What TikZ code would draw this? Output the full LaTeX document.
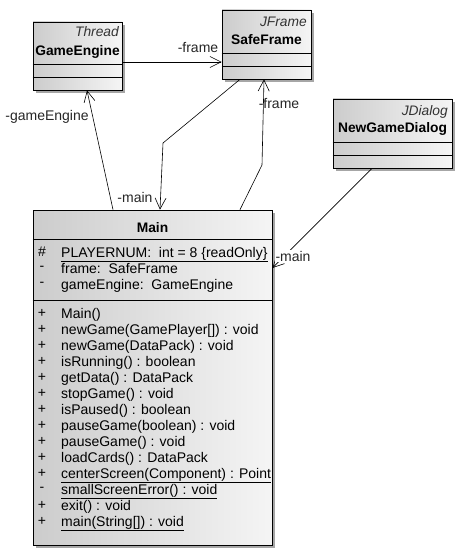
\documentclass[tikz,border=0pt]{standalone}
\usepackage{fontspec}
\setmainfont{Liberation Sans}
\usetikzlibrary{arrows.meta,shadows}
\begin{document}
\begin{tikzpicture}[x=1pt,y=-1pt,
  cls/.style={draw=black,line width=0.7pt,left color=black!20,right color=black!4,
     drop shadow={shadow xshift=3pt,shadow yshift=-3pt,fill=black!35,opacity=1},inner sep=0pt},
  txt/.style={font=\fontsize{14}{16}\selectfont,inner sep=0pt},
  nm/.style={txt,font=\fontsize{13.8}{16}\selectfont\bfseries},
  st/.style={txt,font=\fontsize{13.8}{16}\selectfont\itshape,text=black!80,anchor=east},
  sym/.style={txt},
  mem/.style={txt,anchor=base west},
  sep/.style={line width=0.7pt},
  arr/.style={line width=0.6pt,-{Straight Barb[length=11pt,width=11pt,line width=0.6pt]}},
  lbl/.style={txt,text=black!85}
]
\useasboundingbox (0,0) rectangle (462,556);
\fill[white] (0,0) rectangle (462,556);

% class boxes
\node[cls,minimum width=89pt,minimum height=68pt] (ge) at (77.5,56) {};
\node[cls,minimum width=89pt,minimum height=69pt] (sf) at (266.5,44.5) {};
\node[cls,minimum width=119pt,minimum height=69pt] (ngd) at (392.5,133.5) {};
\node[cls,minimum width=239pt,minimum height=335pt] (main) at (152.5,377.5) {};

% compartments
\draw[sep] (ge.west |- 0,64) -- (ge.east |- 0,64);
\draw[sep] (ge.west |- 0,77) -- (ge.east |- 0,77);
\draw[sep] (sf.west |- 0,53) -- (sf.east |- 0,53);
\draw[sep] (sf.west |- 0,66) -- (sf.east |- 0,66);
\draw[sep] (ngd.west |- 0,142) -- (ngd.east |- 0,142);
\draw[sep] (ngd.west |- 0,155) -- (ngd.east |- 0,155);
\draw[sep] (main.west |- 0,239) -- (main.east |- 0,239);
\draw[sep] (main.west |- 0,300) -- (main.east |- 0,300);

% names and stereotypes
\node[st] (geS) at (119,32) {Thread};
\node[nm] (geN) at (77.5,52) {GameEngine};
\node[st] (sfS) at (307,22) {JFrame};
\node[nm] (sfN) at (266.5,40) {SafeFrame};
\node[st] (ngdS) at (448,112) {JDialog};
\node[nm] (ngdN) at (392.5,129) {NewGameDialog};
\node[nm] (mainN) at (152.5,228) {Main};

% attributes
\node[sym] (a1s) at (42,252) {\#};
\node[mem] (a1) at (61,257) {\underline{PLAYERNUM:\ \ int = 8 \{readOnly\}}};
\node[sym] (a2s) at (42,268) {-};
\node[mem] (a2) at (61,273) {frame:\ \ SafeFrame};
\node[sym] (a3s) at (42,284) {-};
\node[mem] (a3) at (61,289) {gameEngine:\ \ GameEngine};

% operations
\foreach \s/\t [count=\i from 0] in {
  +/{Main()},
  +/{newGame(GamePlayer[]) : void},
  +/{newGame(DataPack) : void},
  +/{isRunning() : boolean},
  +/{getData() : DataPack},
  +/{stopGame() : void},
  +/{isPaused() : boolean},
  +/{pauseGame(boolean) : void},
  +/{pauseGame() : void},
  +/{loadCards() : DataPack},
  +/{\underline{centerScreen(Component) : Point}},
  -/{\underline{smallScreenError() : void}},
  +/{exit() : void},
  +/{\underline{main(String[]) : void}}
}{
  \node[sym] (o\i s) at (42,{313+16*\i}) {\s};
  \node[mem] (o\i) at (61,{318+16*\i}) {\t};
}

% connectors
\draw[arr] (ge.east |- 0,62) -- (sf.west |- 0,62);
\draw[arr] (main.north -| 113,0) -- (ge.south -| 87,0);
\draw[arr] (sf.south -| 240,0) -- (163,143) -- (main.north -| 160,0);
\draw[arr] (main.north -| 240,0) -- (262,165) -- (sf.south -| 264,0);
\draw[arr] (ngd.south -| 372,0) -- (main.east |- 0,268);

% connector labels
\node[lbl] (l1) at (198,48) {-frame};
\node[lbl] (l2) at (47,117) {-gameEngine};
\node[lbl] (l3) at (135,197) {-main};
\node[lbl] (l4) at (279,104) {-frame};
\node[lbl,fill=white,inner sep=1pt] (l5) at (293,256) {-main};
\end{tikzpicture}
\end{document}
